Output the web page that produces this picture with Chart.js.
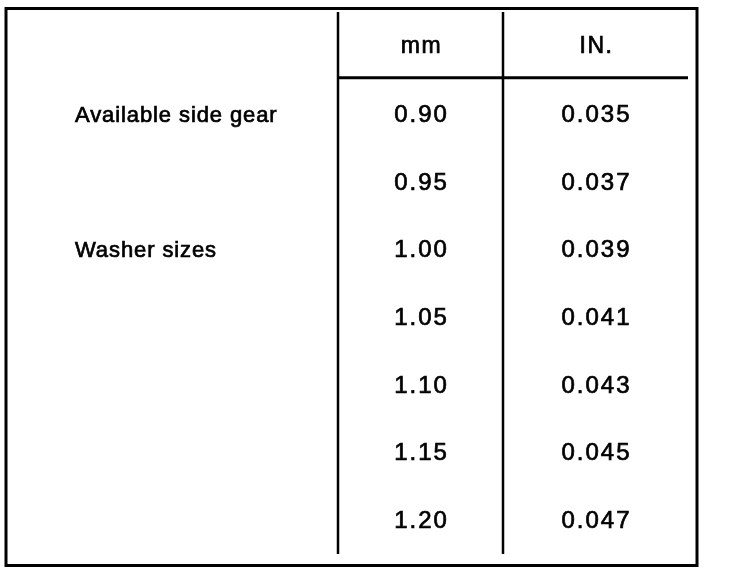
<!DOCTYPE html>
<html>
<head>
<meta charset="utf-8">
<script src="https://cdn.jsdelivr.net/npm/chart.js@4.4.0/dist/chart.umd.min.js"></script>
<style>
  html, body { margin: 0; padding: 0; background: #fff; }
  canvas { display: block; }
</style>
</head>
<body>
<canvas id="chart" width="736" height="574"></canvas>
<script>
const columns = ["mm", "IN."];
const mmSizes = ["0.90", "0.95", "1.00", "1.05", "1.10", "1.15", "1.20"];
const inchSizes = ["0.035", "0.037", "0.039", "0.041", "0.043", "0.045", "0.047"];
const rowNotes = ["Available side gear", "", "Washer sizes", "", "", "", ""];

const chartCanvas = document.getElementById("chart");

// row 0 is the header, data rows start at 1
const toPoints = (values, col) =>
  values.map((v, i) => ({ x: col, y: i + 1, text: v }));

// fill plus a thin stroke, the scanned print is quite heavy
const inkText = (ctx, s, x, y) => {
  ctx.fillText(s, x, y);
  ctx.strokeText(s, x, y);
};

const tablePlugin = {
  id: "tablePlugin",
  afterDraw(chart) {
    const ctx = chart.ctx;
    const xs = chart.scales.x;
    const ys = chart.scales.y;
    const area = chart.chartArea;
    ctx.save();
    ctx.strokeStyle = "#000";
    ctx.fillStyle = "#000";

    // outer frame
    ctx.lineWidth = 3;
    ctx.strokeRect(6, 8.5, 691, 557);

    // column dividers
    ctx.lineWidth = 2.5;
    const divMid = (xs.getPixelForValue(0) + xs.getPixelForValue(1)) / 2 - 5;
    [area.left + 5, divMid].forEach((x) => {
      ctx.beginPath();
      ctx.moveTo(x, area.top - 1);
      ctx.lineTo(x, area.bottom);
      ctx.stroke();
    });

    // line under header
    const headBottom = (ys.getPixelForValue(0) + ys.getPixelForValue(1)) / 2 - 3;
    ctx.lineWidth = 3;
    ctx.beginPath();
    ctx.moveTo(area.left + 5, headBottom);
    ctx.lineTo(area.right + 5, headBottom);
    ctx.stroke();

    ctx.textBaseline = "middle";
    ctx.lineWidth = 0.7;

    // header
    ctx.font = "23px 'Liberation Sans', Arial, sans-serif";
    ctx.letterSpacing = "1.5px";
    ctx.textAlign = "center";
    columns.forEach((c, i) => {
      inkText(ctx, c, xs.getPixelForValue(i) + 1, ys.getPixelForValue(0));
    });

    // values
    ctx.font = "24px 'Liberation Sans', Arial, sans-serif";
    ctx.letterSpacing = "2px";
    chart.data.datasets.forEach((ds, di) => {
      const meta = chart.getDatasetMeta(di);
      meta.data.forEach((pt, i) => {
        inkText(ctx, ds.data[i].text, pt.x + 1, pt.y + 1);
      });
    });

    // notes on the left
    ctx.font = "22px 'Liberation Sans', Arial, sans-serif";
    ctx.letterSpacing = "0.9px";
    ctx.textAlign = "left";
    rowNotes.forEach((n, i) => {
      if (n) inkText(ctx, n, 75, ys.getPixelForValue(i + 1) + 1);
    });
    ctx.restore();
  },
};

new Chart(chartCanvas, {
  type: "scatter",
  data: {
    datasets: [
      { label: columns[0], data: toPoints(mmSizes, 0), pointRadius: 0 },
      { label: columns[1], data: toPoints(inchSizes, 1), pointRadius: 0 },
    ],
  },
  options: {
    responsive: false,
    animation: false,
    layout: { padding: { left: 333, right: 53, top: 13, bottom: 20 } },
    plugins: { legend: { display: false }, tooltip: { enabled: false } },
    scales: {
      x: { type: "linear", min: -0.5, max: 1.5, display: false },
      y: { type: "linear", min: -0.5, max: mmSizes.length + 0.5, reverse: true, display: false },
    },
  },
  plugins: [tablePlugin],
});
</script>
</body>
</html>
